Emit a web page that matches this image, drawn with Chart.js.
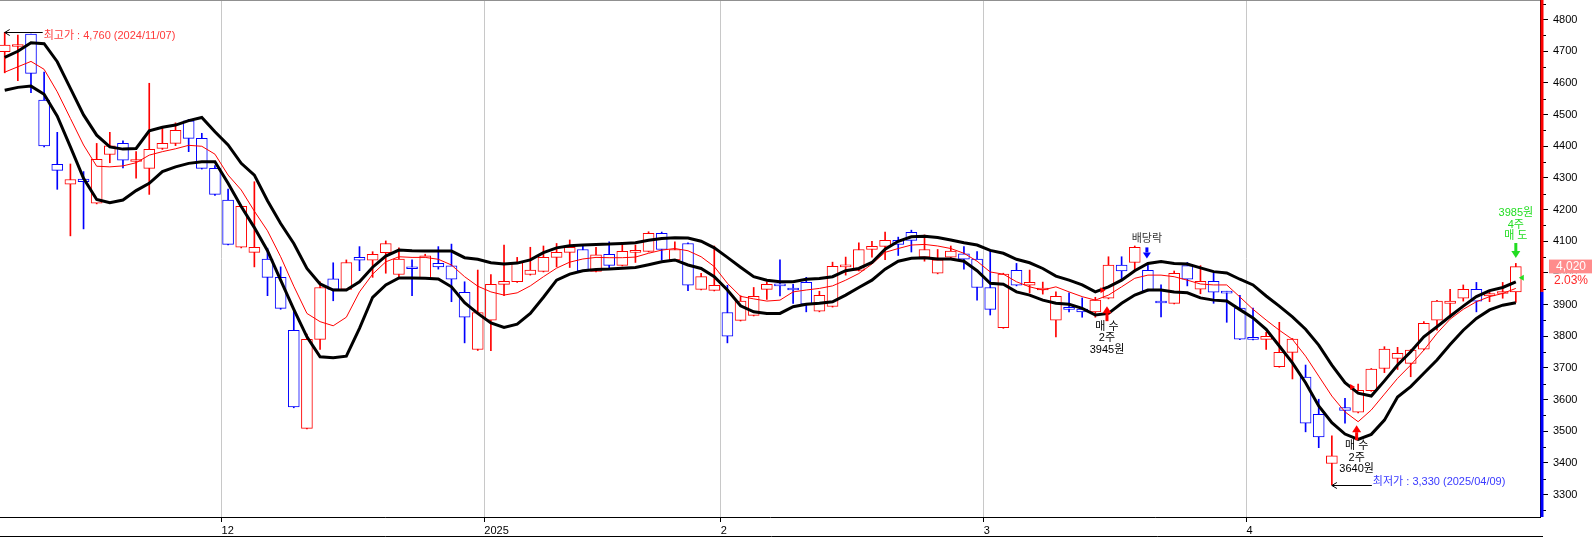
<!DOCTYPE html>
<html>
<head>
<meta charset="utf-8">
<script src="https://cdn.jsdelivr.net/npm/chart.js@4.4.1/dist/chart.umd.min.js"></script>
<style>
  html, body { margin: 0; padding: 0; background: #fff; overflow: hidden; }
  #wrap { position: relative; width: 1592px; height: 537px; }
</style>
</head>
<body>
<div id="wrap"><canvas id="chart" width="1592" height="537"></canvas></div>
<script>
// ============================================================
//  일봉 차트 · 2024/11/07 ~ 2025/04/29 (엔벨로프 밴드)
// ============================================================

// 일별 시가 / 고가 / 저가 / 종가 (원)
const open = [
  4699, 4715, 4754, 4546, 4343, 4280, 4296, 4220, 4374, 4409, 4352, 4330, 4393, 4409, 4480, 4425, 4330, 4230, 4081, 4065,
  4044, 3986, 3819, 3509, 3790, 3981, 3948, 4049, 4040, 4064, 3995, 4016, 3985, 4030, 4022, 3939, 3758, 3851, 3964,
  3972, 3995, 4005, 4049, 4065, 4074, 4005, 4059, 4024, 4065, 4068, 4125, 4041, 4093, 3948, 3945, 3875, 3850, 3866,
  3948, 3964, 3949, 3970, 3879, 3894, 4019, 4008, 4074, 4084, 4103, 4128, 4050, 3999, 4050, 4060, 4044, 3954,
  3827, 4008, 3961, 3946, 3851, 3888, 3886, 3877, 3920, 4025, 4033, 4008, 3907, 3904, 4023, 3949, 3973, 3940, 3889,
  3795, 3790, 3704, 3749, 3671, 3553, 3398, 3575, 3560, 3628, 3698, 3730, 3714, 3759, 3851, 3904, 3920, 3948, 3927, 3935, 3940
];
const high = [
  4760, 4751, 4754, 4634, 4444, 4344, 4320, 4409, 4444, 4417, 4383, 4599, 4462, 4474, 4485, 4441, 4339, 4265, 4212, 4288,
  4078, 4019, 3879, 3807, 3972, 4032, 4041, 4083, 4067, 4101, 4079, 4041, 4059, 4083, 4091, 3972, 4009, 3995, 4088,
  4049, 4081, 4085, 4093, 4104, 4087, 4081, 4098, 4093, 4088, 4130, 4129, 4098, 4095, 3999, 4085, 3961, 3928, 3954,
  3972, 4041, 3964, 3986, 3942, 4034, 4050, 4095, 4100, 4129, 4113, 4135, 4120, 4074, 4085, 4083, 4067, 4072,
  3999, 4030, 4009, 3971, 3940, 3937, 3921, 3923, 4051, 4051, 4085, 4030, 3962, 4006, 4033, 4023, 3999, 3942, 3929,
  3889, 3812, 3844, 3793, 3709, 3601, 3485, 3604, 3649, 3698, 3767, 3765, 3758, 3846, 3913, 3948, 3962, 3970, 3940, 3970, 4030
];
const low = [
  4632, 4607, 4569, 4398, 4264, 4117, 4139, 4218, 4348, 4332, 4299, 4248, 4390, 4402, 4383, 4328, 4245, 4088, 4079, 4019,
  3928, 3885, 3574, 3507, 3758, 3912, 3946, 4007, 3986, 3999, 3988, 3928, 3983, 4012, 3909, 3779, 3755, 3754, 3928,
  3970, 3993, 4003, 4019, 4017, 4004, 4003, 4014, 4022, 4033, 4066, 4041, 4039, 3944, 3946, 3943, 3779, 3848, 3864,
  3916, 3927, 3904, 3877, 3877, 3892, 3993, 4006, 4050, 4042, 4055, 4066, 4037, 3997, 4048, 4012, 3914, 3867,
  3825, 3959, 3937, 3933, 3798, 3877, 3860, 3860, 3918, 3977, 4009, 3942, 3861, 3902, 3959, 3934, 3904, 3844, 3789,
  3788, 3758, 3702, 3665, 3498, 3448, 3330, 3525, 3558, 3626, 3685, 3695, 3672, 3757, 3819, 3860, 3911, 3877, 3909, 3920, 3907
];
const close = [
  4720, 4720, 4630, 4401, 4324, 4295, 4288, 4359, 4401, 4356, 4357, 4390, 4409, 4450, 4425, 4330, 4248, 4090, 4210, 4081,
  3986, 3888, 3577, 3790, 3954, 3948, 4033, 4040, 4059, 4093, 4044, 4013, 4054, 4019, 3980, 3860, 3875, 3964, 3973,
  4033, 4009, 4049, 4065, 4081, 4006, 4057, 4024, 4068, 4068, 4125, 4074, 4074, 3961, 3988, 3961, 3800, 3911, 3926,
  3964, 3959, 3946, 3901, 3929, 4021, 4022, 4074, 4084, 4103, 4090, 4103, 4074, 4041, 4069, 4043, 3954, 3885,
  3996, 3961, 3970, 3951, 3926, 3885, 3877, 3914, 4025, 4006, 4081, 3944, 3905, 3999, 3980, 3973, 3939, 3936, 3791,
  3790, 3800, 3749, 3791, 3525, 3482, 3422, 3566, 3629, 3696, 3759, 3746, 3756, 3841, 3911, 3911, 3948, 3911, 3935, 3940, 4020
];

// 엔벨로프 상단 / 중심선 / 하단
const upperBand = [
  4681, 4700, 4727, 4724, 4667, 4583, 4499, 4435, 4398, 4391, 4393, 4449, 4460, 4467, 4481, 4491, 4446, 4404, 4346, 4309,
  4228, 4156, 4093, 4014, 3965, 3946, 3946, 3972, 4018, 4053, 4072, 4070, 4069, 4069, 4069, 4048, 4043, 4032, 4028,
  4031, 4041, 4064, 4079, 4086, 4088, 4090, 4091, 4093, 4095, 4103, 4109, 4111, 4110, 4100, 4079, 4049, 4018, 3988,
  3977, 3972, 3972, 3980, 3982, 3988, 4007, 4014, 4033, 4075, 4100, 4114, 4116, 4112, 4104, 4095, 4088, 4071,
  4062, 4043, 4032, 4014, 3990, 3977, 3962, 3940, 3956, 3977, 4007, 4030, 4036, 4030, 4028, 4016, 4004, 4000, 3980,
  3962, 3927, 3895, 3861, 3822, 3772, 3709, 3653, 3620, 3611, 3659, 3709, 3751, 3798, 3830, 3863, 3895, 3925, 3944, 3954, 3972
];
const midLine = [
  4634, 4651, 4668, 4643, 4572, 4488, 4404, 4337, 4335, 4338, 4348, 4372, 4383, 4392, 4403, 4400, 4375, 4309, 4262, 4195,
  4133, 4051, 3958, 3872, 3846, 3833, 3860, 3940, 3996, 4035, 4051, 4049, 4049, 4043, 4025, 3988, 3958, 3940, 3930,
  3937, 3959, 3988, 4015, 4034, 4044, 4049, 4048, 4048, 4050, 4062, 4072, 4077, 4070, 4051, 4020, 3967, 3926, 3918,
  3911, 3914, 3940, 3946, 3951, 3959, 3977, 3998, 4028, 4065, 4077, 4088, 4090, 4085, 4077, 4062, 4037, 4003,
  3996, 3972, 3956, 3946, 3956, 3940, 3925, 3914, 3930, 3956, 3983, 3993, 3993, 3988, 3977, 3965, 3962, 3962, 3924,
  3885, 3851, 3819, 3790, 3737, 3674, 3611, 3561, 3530, 3567, 3617, 3667, 3709, 3756, 3809, 3854, 3885, 3909, 3925, 3935, 3951
];
const lowerBand = [
  4577, 4586, 4590, 4564, 4495, 4398, 4299, 4232, 4222, 4230, 4260, 4283, 4320, 4335, 4346, 4351, 4351, 4283, 4210, 4143,
  4070, 3977, 3885, 3798, 3735, 3732, 3737, 3825, 3923, 3962, 3984, 3984, 3983, 3981, 3956, 3906, 3872, 3842, 3828,
  3838, 3872, 3923, 3977, 3996, 4007, 4011, 4012, 4015, 4017, 4026, 4035, 4041, 4025, 4014, 3988, 3946, 3896, 3877,
  3872, 3872, 3893, 3901, 3904, 3909, 3930, 3954, 3977, 4012, 4037, 4046, 4048, 4044, 4044, 4037, 4007, 3967,
  3964, 3940, 3930, 3914, 3904, 3901, 3888, 3867, 3872, 3904, 3930, 3946, 3946, 3940, 3937, 3921, 3914, 3911, 3884,
  3858, 3822, 3769, 3716, 3653, 3580, 3527, 3491, 3474, 3490, 3535, 3608, 3641, 3683, 3725, 3774, 3819, 3856, 3883, 3898, 3906
];

// 월 구분 (각 월 첫 거래일의 봉 번호)
const monthStart  = [17, 37, 55, 75, 95];
const monthLabels = ['12', '2025', '2', '3', '4'];

// 가격축 눈금
const priceTicks = [3300, 3400, 3500, 3600, 3700, 3800, 3900, 4000, 4100, 4200, 4300, 4400, 4500, 4600, 4700, 4800];
const minorTicks = [3250, 3350, 3450, 3550, 3650, 3750, 3850, 3950, 4050, 4150, 4250, 4350, 4450, 4550, 4650, 4750, 4850];

const prevClose = 3940;
const lastPrice = 4020;
const lastChange = '2.03%';

// 신호 (봉 번호, 화살표 끝 가격)
const buySignals  = [{ i: 84, tip: 3895, price: 3945, lines: ['매 수', '2주', '3945원'] },
                     { i: 103, tip: 3519, price: 3640, lines: ['매 수', '2주', '3640원'] }];
const sellSignals = [{ i: 115, tip: 4047, price: 3985, lines: ['3985원', '4주', '매 도'] }];
const dividend    = { i: 87, text: '배당락' };
const highMark    = { i: 0, value: 4760, text: '최고가 : 4,760 (2024/11/07)' };
const lowMark     = { i: 101, value: 3330, text: '최저가 : 3,330 (2025/04/09)' };

const RED = '#ff0000';
const BLUE = '#0000ff';
const FONT = "'Liberation Sans', 'Noto Sans CJK KR', sans-serif";

Chart.defaults.font.family = FONT;
Chart.defaults.font.size = 11;

const idx = open.map((_, i) => i);
const candleColor = idx.map(i => close[i] >= open[i] ? RED : BLUE);

function arrow(ctx, x, tipY, dir, color, len, head, hw) {
  // dir: -1 = 위쪽 화살표, +1 = 아래쪽 화살표
  const tailY = tipY - dir * len;
  const baseY = tipY - dir * head;
  ctx.fillStyle = color;
  ctx.fillRect(x - 1.5, Math.min(tailY, baseY), 3, len - head);
  ctx.beginPath();
  ctx.moveTo(x, tipY);
  ctx.lineTo(x - hw, baseY);
  ctx.lineTo(x + hw, baseY);
  ctx.closePath();
  ctx.fill();
}

const extras = {
  id: 'extras',
  beforeDraw(chart) {
    const ctx = chart.ctx;
    ctx.save();
    ctx.fillStyle = '#fff';
    ctx.fillRect(0, 0, chart.width, chart.height);
    ctx.restore();
  },
  afterDraw(chart) {
    const ctx = chart.ctx;
    const xs = chart.scales.x, ys = chart.scales.y;
    const area = chart.chartArea;
    const px = v => xs.getPixelForValue(v);
    const py = v => ys.getPixelForValue(v);
    ctx.save();

    // 상단 테두리, 하단 선
    ctx.strokeStyle = '#909090';
    ctx.lineWidth = 1;
    ctx.beginPath(); ctx.moveTo(0, 0.5); ctx.lineTo(area.right, 0.5); ctx.stroke();
    ctx.strokeStyle = '#000';
    ctx.beginPath(); ctx.moveTo(0, chart.height - 0.5); ctx.lineTo(area.right + 3, chart.height - 0.5); ctx.stroke();

    // 보조 눈금
    ctx.beginPath();
    minorTicks.forEach(v => {
      const y = Math.round(py(v)) + 0.5;
      if (y < area.top || y > area.bottom) return;
      ctx.moveTo(area.right, y); ctx.lineTo(area.right + 6, y);
    });
    ctx.stroke();

    // 전일 종가 기준 색 막대
    const yc = py(prevClose);
    ctx.fillStyle = RED;
    ctx.fillRect(area.right + 0.5, area.top, 3, yc - area.top);
    ctx.fillStyle = BLUE;
    ctx.fillRect(area.right + 0.5, yc, 3, area.bottom - yc);

    // 현재가 표시
    const yl = py(lastPrice);
    const bx = area.right + 9, bw = chart.width - area.right - 9;
    ctx.fillStyle = '#ff8c8c';
    ctx.fillRect(bx, yl - 7, bw, 14);
    ctx.fillStyle = '#fff';
    ctx.fillRect(bx, yl + 7, bw, 14);
    ctx.font = '12px ' + FONT;
    ctx.textAlign = 'center';
    ctx.textBaseline = 'middle';
    ctx.fillStyle = '#fff';
    ctx.fillText(lastPrice.toLocaleString('en-US'), area.right + 31, yl + 0.5);
    ctx.fillStyle = '#ff2a2a';
    ctx.fillText(lastChange, area.right + 31, yl + 14);

    // 최고가 / 최저가
    ctx.font = '11px ' + FONT;
    ctx.textAlign = 'left';
    [[highMark, '#ff3a3a', 38, 3], [lowMark, '#3a3aff', 40, -4]].forEach(([m, col, w, dy]) => {
      const x0 = px(m.i), y0 = Math.round(py(m.value)) + 0.5;
      ctx.strokeStyle = '#000';
      ctx.lineWidth = 1;
      ctx.beginPath();
      ctx.moveTo(x0, y0); ctx.lineTo(x0 + w, y0);
      ctx.moveTo(x0 + 5, y0 - 3); ctx.lineTo(x0, y0); ctx.lineTo(x0 + 5, y0 + 3);
      ctx.stroke();
      ctx.fillStyle = col;
      ctx.fillText(m.text, x0 + w + 1, y0 + dy);
    });

    // 배당락
    const dx = px(dividend.i) - 1;
    const dTip = py(high[dividend.i]) - 5;
    arrow(ctx, dx, dTip, 1, '#0000ff', 11, 6, 4);
    ctx.fillStyle = '#333';
    ctx.textAlign = 'center';
    ctx.fillText(dividend.text, dx, dTip - 19);

    // 매수 신호
    buySignals.forEach(s => {
      const x = px(s.i) - 1.5, tip = py(s.tip);
      arrow(ctx, x, tip, -1, RED, 15, 7, 4.5);
      ctx.fillStyle = RED;
      const ym = py(s.price);
      ctx.beginPath();
      ctx.moveTo(px(s.i) - 8, ym - 3); ctx.lineTo(px(s.i) - 8, ym + 3); ctx.lineTo(px(s.i) - 3, ym);
      ctx.fill();
      ctx.fillStyle = '#000';
      s.lines.forEach((t, k) => ctx.fillText(t, x, tip + 21 + k * 11.3));
    });

    // 매도 신호
    sellSignals.forEach(s => {
      const x = px(s.i), tip = py(s.tip);
      arrow(ctx, x, tip, 1, '#22dd22', 15, 7, 4.5);
      ctx.fillStyle = '#22dd22';
      const ym = py(s.price);
      ctx.beginPath();
      ctx.moveTo(x + 8, ym - 3); ctx.lineTo(x + 8, ym + 3); ctx.lineTo(x + 3, ym);
      ctx.fill();
      const n = s.lines.length;
      s.lines.forEach((t, k) => ctx.fillText(t, x, tip - 22 - (n - 1 - k) * 11.5));
    });

    ctx.restore();
  }
};

new Chart(document.getElementById('chart'), {
  type: 'bar',
  data: {
    datasets: [
      {
        type: 'line', label: '상단', order: 0,
        data: idx.map(i => ({ x: i, y: upperBand[i] })),
        borderColor: '#000', borderWidth: 3, pointRadius: 0, tension: 0
      },
      {
        type: 'line', label: '하단', order: 0,
        data: idx.map(i => ({ x: i, y: lowerBand[i] })),
        borderColor: '#000', borderWidth: 3, pointRadius: 0, tension: 0
      },
      {
        type: 'line', label: '중심', order: 0,
        data: idx.map(i => ({ x: i, y: midLine[i] })),
        borderColor: RED, borderWidth: 1, pointRadius: 0, tension: 0
      },
      {
        label: '몸통', order: 1, grouped: false,
        data: idx.map(i => ({ x: i, y: [Math.min(open[i], close[i]), Math.max(open[i], close[i])] })),
        backgroundColor: '#fff', borderColor: candleColor, borderWidth: 1, borderSkipped: false,
        barThickness: 11, minBarLength: 2
      },
      {
        label: '꼬리', order: 2, grouped: false,
        data: idx.map(i => ({ x: i, y: [low[i], high[i]] })),
        backgroundColor: candleColor, barThickness: 1
      }
    ]
  },
  options: {
    responsive: false,
    devicePixelRatio: 1,
    animation: false,
    layout: { padding: 0 },
    plugins: { legend: { display: false }, tooltip: { enabled: false } },
    scales: {
      x: {
        type: 'linear', min: -0.358, max: 116.84, offset: false,
        afterBuildTicks: s => { s.ticks = monthStart.map(i => ({ value: i - 0.5 })); },
        afterFit: s => { s.height = 20; s.paddingLeft = 0; s.paddingRight = 0; },
        ticks: {
          autoSkip: false, maxRotation: 0, align: 'start', padding: 2, color: '#000',
          font: { size: 11 },
          callback: (v, k) => monthLabels[k]
        },
        grid: { offset: false, color: '#c8c8c8', tickColor: '#000', tickLength: 5 },
        border: { display: true, color: '#000', width: 1 }
      },
      y: {
        position: 'right', min: 3229, max: 4862,
        afterBuildTicks: s => { s.ticks = priceTicks.map(v => ({ value: v })); },
        afterFit: s => { s.width = 52; s.paddingTop = 0; s.paddingBottom = 0; },
        ticks: { color: '#000', padding: 5, font: { size: 11 }, callback: v => String(v) },
        grid: { drawOnChartArea: false, tickColor: '#000', tickLength: 8 },
        border: { display: true, color: '#000', width: 1 }
      }
    }
  },
  plugins: [extras]
});
</script>
</body>
</html>
